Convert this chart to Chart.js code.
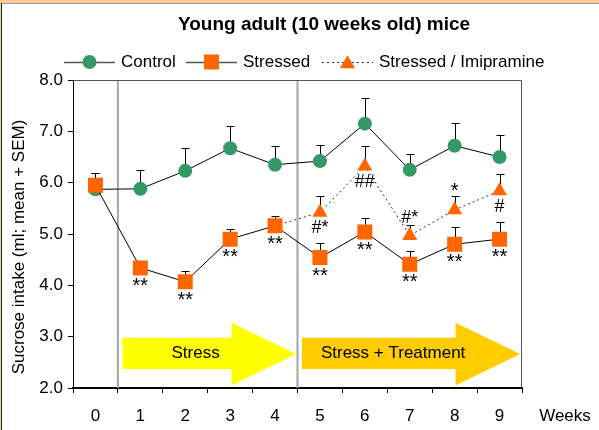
<!DOCTYPE html>
<html>
<head>
<meta charset="utf-8">
<script src="https://cdn.jsdelivr.net/npm/chart.js@4"></script>
<style>
  html, body { margin: 0; padding: 0; background: #fff; }
</style>
</head>
<body>
<canvas id="sucroseChart" width="599" height="430"></canvas>
<script>
// values (weeks 0-9)
const weeks = ['0', '1', '2', '3', '4', '5', '6', '7', '8', '9'];
const control = [5.87, 5.88, 6.23, 6.67, 6.35, 6.42, 7.15, 6.25, 6.72, 6.50];
const controlSem = [0.32, 0.36, 0.45, 0.43, 0.37, 0.32, 0.50, 0.31, 0.44, 0.43];
const stressed = [5.95, 4.34, 4.07, 4.90, 5.16, 4.54, 5.04, 4.41, 4.80, 4.90];
const stressedSem = [0.24, 0.10, 0.21, 0.20, 0.20, 0.29, 0.27, 0.25, 0.33, 0.33];
const imipramine = [null, null, null, null, 5.16, 5.42, 6.32, 4.97, 5.47, 5.84];
const imipramineSem = [null, null, null, null, 0, 0.32, 0.40, 0.21, 0.27, 0.32];
const stressedMarks = ['', '**', '**', '**', '**', '**', '**', '**', '**', '**'];
const imiMarksBelow = ['', '', '', '', '', '#*', '##', '', '', '#'];
const imiMarksAbove = ['', '', '', '', '', '', '', '#*', '*', ''];
const yTicks = [2, 3, 4, 5, 6, 7, 8];
const phaseNames = ['Stress', 'Stress + Treatment'];
const phaseStarts = [1, 5]; // first week of each phase

const FONT = '"Liberation Sans", Arial, sans-serif';
const GREEN = '#339966';
const ORANGE = '#ff6600';

// peach frame round the whole picture
const framePlugin = {
  id: 'frame',
  beforeDraw(chart) {
    const { ctx, width, height } = chart;
    ctx.save();
    ctx.fillStyle = '#ffcc99';
    ctx.fillRect(0, 0, width, height);
    ctx.fillStyle = '#fff';
    ctx.fillRect(2, 3, width, height);
    ctx.strokeStyle = '#999';
    ctx.lineWidth = 1;
    ctx.beginPath(); ctx.moveTo(1, 3.5); ctx.lineTo(width, 3.5); ctx.stroke();
    ctx.strokeStyle = '#222';
    ctx.beginPath(); ctx.moveTo(1.5, 3); ctx.lineTo(1.5, height); ctx.stroke();
    ctx.restore();
  }
};

function drawArrow(ctx, x, y, from, headAt, tip, bodyLo, bodyHi, headLo, headHi, color) {
  ctx.fillStyle = color;
  ctx.beginPath();
  ctx.moveTo(x.getPixelForValue(from), y.getPixelForValue(bodyHi));
  ctx.lineTo(x.getPixelForValue(headAt), y.getPixelForValue(bodyHi));
  ctx.lineTo(x.getPixelForValue(headAt), y.getPixelForValue(headHi));
  ctx.lineTo(x.getPixelForValue(tip), y.getPixelForValue((headLo + headHi) / 2));
  ctx.lineTo(x.getPixelForValue(headAt), y.getPixelForValue(headLo));
  ctx.lineTo(x.getPixelForValue(headAt), y.getPixelForValue(bodyLo));
  ctx.lineTo(x.getPixelForValue(from), y.getPixelForValue(bodyLo));
  ctx.closePath();
  ctx.fill();
}

// phase separators, arrows and error bars (behind the markers)
const backPlugin = {
  id: 'back',
  beforeDatasetsDraw(chart) {
    const { ctx, chartArea: a, scales: { x, y } } = chart;
    ctx.save();
    ctx.strokeStyle = '#a6a6a6';
    ctx.lineWidth = 2;
    phaseStarts.forEach(w => {
      const px = x.getPixelForValue(w - 0.5);
      ctx.beginPath(); ctx.moveTo(px, a.top); ctx.lineTo(px, a.bottom); ctx.stroke();
    });

    drawArrow(ctx, x, y, 0.6, 3.03, 4.47, 2.37, 2.98, 2.05, 3.27, '#ffff00');
    drawArrow(ctx, x, y, 4.6, 8.02, 9.46, 2.37, 2.98, 2.05, 3.27, '#ffcc00');
    ctx.fillStyle = '#000';
    ctx.font = '17px ' + FONT;
    ctx.textAlign = 'center';
    ctx.textBaseline = 'middle';
    ctx.fillText(phaseNames[0], x.getPixelForValue(2.23), y.getPixelForValue(2.67));
    ctx.fillText(phaseNames[1], x.getPixelForValue(6.63), y.getPixelForValue(2.67));

    ctx.strokeStyle = '#000';
    ctx.lineWidth = 1;
    [[control, controlSem], [stressed, stressedSem], [imipramine, imipramineSem]].forEach(([vals, sems]) => {
      vals.forEach((v, i) => {
        if (v == null || !sems[i]) return;
        const px = Math.round(x.getPixelForValue(i)) + 0.5;
        const y0 = y.getPixelForValue(v);
        const y1 = Math.round(y.getPixelForValue(v + sems[i])) + 0.5;
        ctx.beginPath();
        ctx.moveTo(px, y0); ctx.lineTo(px, y1);
        ctx.moveTo(px - 4, y1); ctx.lineTo(px + 4, y1);
        ctx.stroke();
      });
    });
    ctx.restore();
  }
};

// significance marks
const marksPlugin = {
  id: 'marks',
  afterDatasetsDraw(chart) {
    const { ctx, scales: { x, y } } = chart;
    ctx.save();
    ctx.fillStyle = '#000';
    ctx.textAlign = 'center';
    ctx.textBaseline = 'alphabetic';
    ctx.font = '20px ' + FONT;
    stressedMarks.forEach((m, i) => {
      if (m) ctx.fillText(m, x.getPixelForValue(i), y.getPixelForValue(stressed[i]) + 24);
    });
    ctx.font = '18px ' + FONT;
    imiMarksBelow.forEach((m, i) => {
      if (m) ctx.fillText(m, x.getPixelForValue(i), y.getPixelForValue(imipramine[i]) + 21);
    });
    imiMarksAbove.forEach((m, i) => {
      if (!m) return;
      ctx.font = (m === '*' ? '20px ' : '18px ') + FONT;
      ctx.fillText(m, x.getPixelForValue(i), y.getPixelForValue(imipramine[i]) - 13);
    });
    ctx.restore();
  }
};

// title, legend, axis captions, plot border
const textPlugin = {
  id: 'texts',
  afterDraw(chart) {
    const { ctx, chartArea: a } = chart;
    ctx.save();
    ctx.strokeStyle = '#555';
    ctx.lineWidth = 1;
    ctx.beginPath();
    ctx.moveTo(a.left, a.top + 0.5); ctx.lineTo(a.right - 0.5, a.top + 0.5); ctx.lineTo(a.right - 0.5, a.bottom);
    ctx.stroke();

    ctx.fillStyle = '#000';
    ctx.textBaseline = 'middle';
    ctx.textAlign = 'center';
    ctx.font = 'bold 19px ' + FONT;
    ctx.fillText('Young adult (10 weeks old) mice', 324, 25);

    ctx.font = '17px ' + FONT;
    ctx.fillText('Weeks', a.right + 43, 416);

    ctx.save();
    ctx.translate(19, 247);
    ctx.rotate(-Math.PI / 2);
    ctx.fillText('Sucrose intake (ml; mean + SEM)', 0, 0);
    ctx.restore();

    // legend
    const items = [
      { x: 64, label: 'Control', style: 'circle', r: 7, color: GREEN, dash: [] },
      { x: 186, label: 'Stressed', style: 'rect', r: 10.6, color: ORANGE, dash: [] },
      { x: 322, label: 'Stressed / Imipramine', style: 'triangle', r: 8.7, color: ORANGE, dash: [2, 3] }
    ];
    const ly = 62;
    ctx.textAlign = 'left';
    items.forEach(it => {
      ctx.strokeStyle = it.dash.length ? '#333' : '#555';
      ctx.lineWidth = it.dash.length ? 1 : 1.5;
      ctx.setLineDash(it.dash);
      ctx.beginPath(); ctx.moveTo(it.x, ly + 0.5); ctx.lineTo(it.x + 51, ly + 0.5); ctx.stroke();
      ctx.setLineDash([]);
      ctx.fillStyle = it.color;
      Chart.helpers.drawPoint(ctx, { pointStyle: it.style, radius: it.r, rotation: 0, borderWidth: 0 }, it.x + 25.5, ly + (it.style === 'triangle' ? 2 : 0));
      ctx.fillStyle = '#000';
      ctx.fillText(it.label, it.x + 57, ly);
    });
    ctx.restore();
  }
};

new Chart(document.getElementById('sucroseChart'), {
  type: 'line',
  data: {
    labels: weeks,
    datasets: [
      {
        label: 'Control',
        data: control,
        borderColor: '#000',
        borderWidth: 1,
        pointStyle: 'circle',
        pointRadius: 7,
        pointBackgroundColor: GREEN,
        pointBorderColor: GREEN,
        pointBorderWidth: 0,
        order: 1
      },
      {
        label: 'Stressed',
        data: stressed,
        borderColor: '#000',
        borderWidth: 1,
        pointStyle: 'rect',
        pointRadius: 10.6,
        pointBackgroundColor: ORANGE,
        pointBorderColor: ORANGE,
        pointBorderWidth: 0,
        order: 0
      },
      {
        label: 'Stressed / Imipramine',
        data: imipramine,
        borderColor: '#333',
        borderWidth: 1,
        borderDash: [2, 3],
        pointStyle: 'triangle',
        pointRadius: ctx => (ctx.dataIndex === 4 ? 0 : 8.7),
        pointBackgroundColor: ORANGE,
        pointBorderColor: ORANGE,
        pointBorderWidth: 0,
        order: 2
      }
    ]
  },
  options: {
    responsive: false,
    animation: false,
    devicePixelRatio: 1,
    layout: { padding: { left: 0, right: 77, top: 80, bottom: 0 } },
    plugins: { legend: { display: false }, title: { display: false }, tooltip: { enabled: false } },
    scales: {
      x: {
        offset: true,
        afterFit: s => { s.height = 42; },
        grid: { offset: true, drawOnChartArea: false, drawTicks: true, tickLength: 5, color: '#000' },
        border: { color: '#000', width: 2 },
        ticks: { color: '#000', padding: 13, font: { family: FONT, size: 17 }, maxRotation: 0 }
      },
      y: {
        min: 2,
        max: 8,
        afterFit: s => { s.width = 73; },
        afterBuildTicks: s => { s.ticks = yTicks.map(v => ({ value: v })); },
        grid: { drawOnChartArea: false, drawTicks: true, tickLength: 5, color: '#000' },
        border: { color: '#000', width: 1 },
        ticks: { color: '#000', padding: 5, font: { family: FONT, size: 17 }, callback: v => v.toFixed(1) }
      }
    }
  },
  plugins: [framePlugin, backPlugin, marksPlugin, textPlugin]
});
</script>
</body>
</html>
